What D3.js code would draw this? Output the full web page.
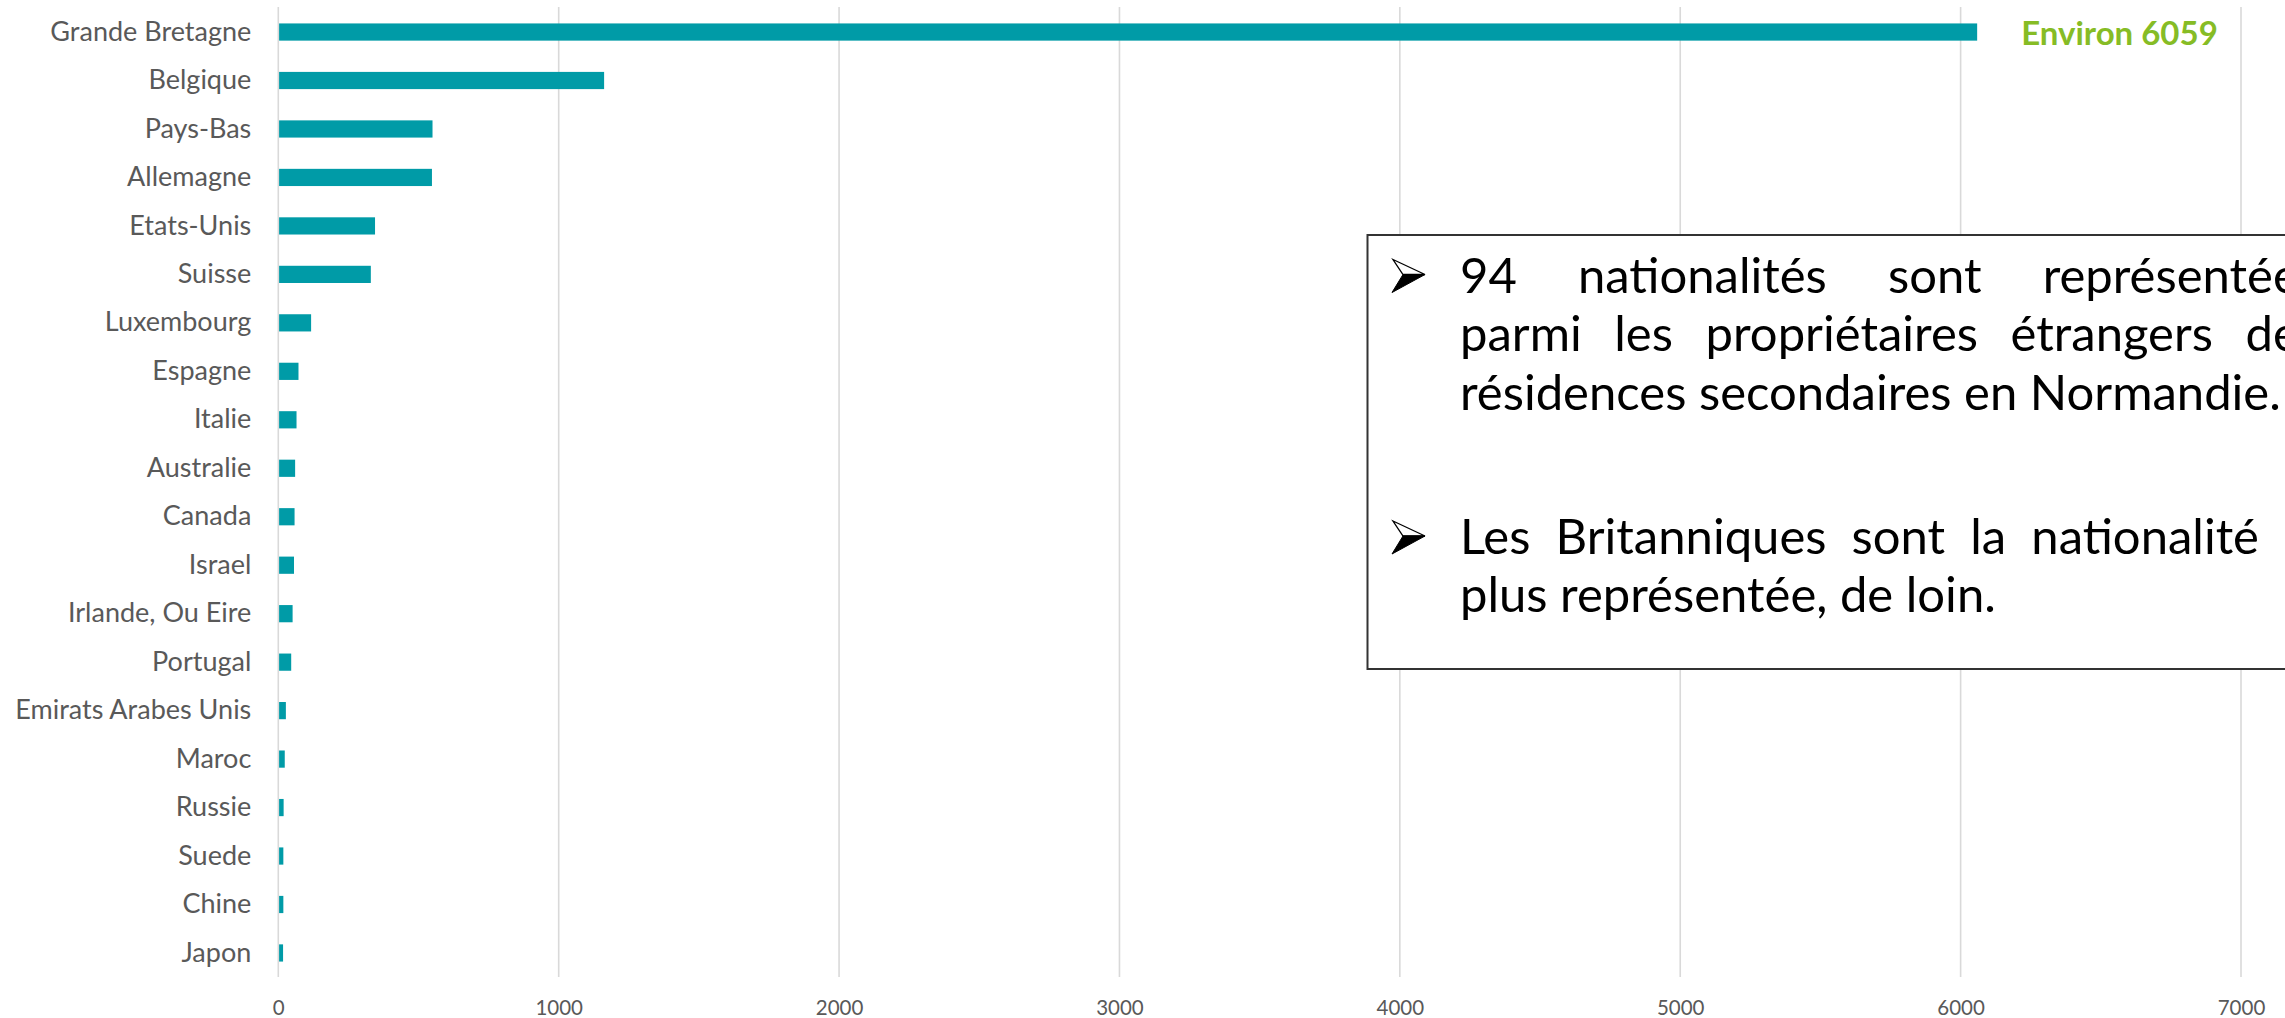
<!DOCTYPE html>
<html>
<head>
<meta charset="utf-8">
<script src="https://cdn.jsdelivr.net/npm/d3@7/dist/d3.min.js"></script>
<style>
  html, body { margin: 0; padding: 0; background: #ffffff; overflow: hidden; }
  svg { display: block; }
</style>
</head>
<body>
<svg id="chart" width="2285" height="1018"></svg>
<script>
// ---- Data ----
const categories = ["Grande Bretagne", "Belgique", "Pays-Bas", "Allemagne", "Etats-Unis", "Suisse",
  "Luxembourg", "Espagne", "Italie", "Australie", "Canada", "Israel", "Irlande, Ou Eire", "Portugal",
  "Emirats Arabes Unis", "Maroc", "Russie", "Suede", "Chine", "Japon"];
const values = [6059, 1162, 550, 548, 345, 330, 117, 72, 65, 60, 58, 56, 51, 46, 27, 23, 19, 18, 18, 17];
const xTickValues = [0, 1000, 2000, 3000, 4000, 5000, 6000, 7000];
const annotationPrefix = "Environ ";
const noteLines = [
  { text: "94 nationalités sont représentées", justify: true, bullet: true },
  { text: "parmi les propriétaires étrangers des", justify: true, bullet: false },
  { text: "résidences secondaires en Normandie.", justify: false, bullet: false },
  { text: "Les Britanniques sont la nationalité la", justify: true, bullet: true },
  { text: "plus représentée, de loin.", justify: false, bullet: false }
];

// ---- Layout ----
const FONT = "Lato, 'Open Sans', sans-serif";
const svg = d3.select("#chart");
const plot = { left: 278.3, right: 2241, top: 7.8, bottom: 977.2 };

const x = d3.scaleLinear().domain([0, 7000]).range([plot.left, plot.right]);
const y = d3.scaleBand().domain(categories).range([plot.top, plot.bottom])
  .paddingInner(0.645).paddingOuter(0.3225);

// gridlines
svg.append("g").selectAll("line").data(xTickValues).join("line")
  .attr("x1", d => x(d)).attr("x2", d => x(d))
  .attr("y1", 7).attr("y2", 977)
  .attr("stroke", "#d9d9d9").attr("stroke-width", 1.6);

// bars
svg.append("g").selectAll("rect").data(values).join("rect")
  .attr("x", x(0) + 0.8)
  .attr("y", (d, i) => y(categories[i]))
  .attr("width", d => x(d) - x(0) - 0.8)
  .attr("height", y.bandwidth())
  .attr("fill", "#009ba7");

// y axis (category labels)
const yAxis = svg.append("g").attr("transform", `translate(${plot.left},0)`)
  .call(d3.axisLeft(y).tickSize(0).tickPadding(27));
yAxis.select(".domain").remove();
yAxis.selectAll("text").attr("font-family", FONT).attr("font-size", 27).attr("fill", "#595959");

// x axis (tick labels)
const xAxis = svg.append("g").attr("transform", `translate(0,977)`)
  .call(d3.axisBottom(x).tickValues(xTickValues).tickSize(0).tickPadding(23).tickFormat(d3.format("d")));
xAxis.select(".domain").remove();
xAxis.selectAll("text").attr("font-family", FONT).attr("font-size", 20.5).attr("fill", "#595959");

// annotation for the largest bar
svg.append("text")
  .attr("x", x(values[0]) + 44)
  .attr("y", y(categories[0]) + y.bandwidth() / 2 + 13)
  .attr("font-family", FONT).attr("font-weight", "bold").attr("font-size", 33)
  .attr("fill", "#86bc25")
  .text(annotationPrefix + values[0]);

// ---- Text box ----
const box = { x: 1367.5, y: 235, w: 1100, h: 434 };
svg.append("rect").attr("x", box.x).attr("y", box.y).attr("width", box.w).attr("height", box.h)
  .attr("fill", "#ffffff").attr("stroke", "#333333").attr("stroke-width", 2);

const noteFont = 49;
const textLeft = 1460, textRight = 2320;
const baselines = [292.5, 351, 409.5, 554, 612];

function measure(str) {
  const t = svg.append("text").attr("font-family", FONT).attr("font-size", noteFont).text(str);
  const w = t.node().getComputedTextLength();
  t.remove();
  return w;
}

function bullet(bx, top) {
  // 3D arrowhead bullet: white upper face with outline, black lower face
  const g = svg.append("g").attr("transform", `translate(${bx},${top})`);
  g.append("path").attr("d", "M1,0 L33,15 L11,15 Z")
    .attr("fill", "#ffffff").attr("stroke", "#000").attr("stroke-width", 1.3).attr("stroke-linejoin", "miter");
  g.append("path").attr("d", "M11,15 L33,15 L0,33 Z")
    .attr("fill", "#000").attr("stroke", "#000").attr("stroke-width", 1);
}

noteLines.forEach((line, i) => {
  const by = baselines[i];
  if (line.bullet) bullet(1392, by - 33);
  const t = svg.append("text").attr("y", by).attr("font-family", FONT)
    .attr("font-size", noteFont).attr("fill", "#000");
  if (line.justify) {
    const words = line.text.split(" ");
    const widths = words.map(measure);
    const total = d3.sum(widths);
    const gap = (textRight - textLeft - total) / (words.length - 1);
    let cx = textLeft;
    words.forEach((w, k) => {
      t.append("tspan").attr("x", cx).text(w);
      cx += widths[k] + gap;
    });
  } else {
    t.attr("x", textLeft).text(line.text);
  }
});
</script>
</body>
</html>
